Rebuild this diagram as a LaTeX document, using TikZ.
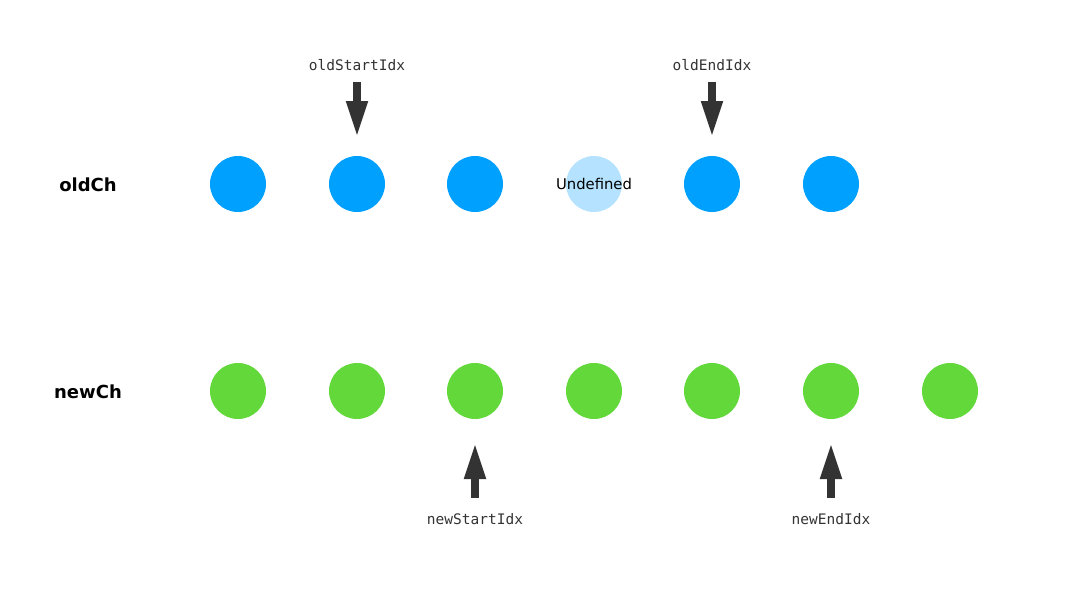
\documentclass[tikz,border=0pt]{standalone}
\usepackage{fontspec}
\setmainfont{DejaVu Sans}
\newfontfamily\labelmono{DejaVu Sans Mono}
\usetikzlibrary{arrows.meta}
\definecolor{oldblue}{RGB}{0,160,255}
\definecolor{undefblue}{RGB}{180,226,255}
\definecolor{newgreen}{RGB}{98,216,58}
\definecolor{arrowgray}{RGB}{51,51,51}
\begin{document}
\begin{tikzpicture}[x=1pt,y=-1pt,
  oldnode/.style={circle,fill=oldblue,minimum size=56pt,inner sep=0pt},
  undefnode/.style={circle,fill=undefblue,minimum size=56pt,inner sep=0pt},
  undeftext/.style={font=\fontsize{14.8}{17}\selectfont,inner sep=0pt},
  newnode/.style={circle,fill=newgreen,minimum size=56pt,inner sep=0pt},
  rowlabel/.style={font=\bfseries\fontsize{18}{22}\selectfont},
  idxlabel/.style={font=\labelmono\fontsize{14.5}{17}\selectfont,text=arrowgray},
  idxarrow/.style={draw=arrowgray,line width=7.5pt,-{Triangle[width=20pt,length=36pt]}}
]
\useasboundingbox (0,0) rectangle (1080,608);
% row labels
\node[rowlabel] (oldch) at (88,185) {oldCh};
\node[rowlabel] (newch) at (88,392) {newCh};
% old children
\node[oldnode] (o1) at (238,184) {};
\node[oldnode] (o2) at (357,184) {};
\node[oldnode] (o3) at (475,184) {};
\node[undefnode] (o4) at (594,184) {};
\node[undeftext] (o4t) at (594,184) {Undefined};
\node[oldnode] (o5) at (712,184) {};
\node[oldnode] (o6) at (831,184) {};
% new children
\node[newnode] (n1) at (238,391) {};
\node[newnode] (n2) at (357,391) {};
\node[newnode] (n3) at (475,391) {};
\node[newnode] (n4) at (594,391) {};
\node[newnode] (n5) at (712,391) {};
\node[newnode] (n6) at (831,391) {};
\node[newnode] (n7) at (950,391) {};
% index labels
\node[idxlabel] (osi) at (357,65) {oldStartIdx};
\node[idxlabel] (oei) at (712,65) {oldEndIdx};
\node[idxlabel] (nsi) at (475,519) {newStartIdx};
\node[idxlabel] (nei) at (831,519) {newEndIdx};
% arrows
\coordinate (osiS) at (357,82);  \coordinate (osiT) at (357,137);
\coordinate (oeiS) at (712,82);  \coordinate (oeiT) at (712,137);
\coordinate (nsiS) at (475,498); \coordinate (nsiT) at (475,443);
\coordinate (neiS) at (831,498); \coordinate (neiT) at (831,443);
\draw[idxarrow] (osiS) -- (osiT);
\draw[idxarrow] (oeiS) -- (oeiT);
\draw[idxarrow] (nsiS) -- (nsiT);
\draw[idxarrow] (neiS) -- (neiT);
\end{tikzpicture}
\end{document}
